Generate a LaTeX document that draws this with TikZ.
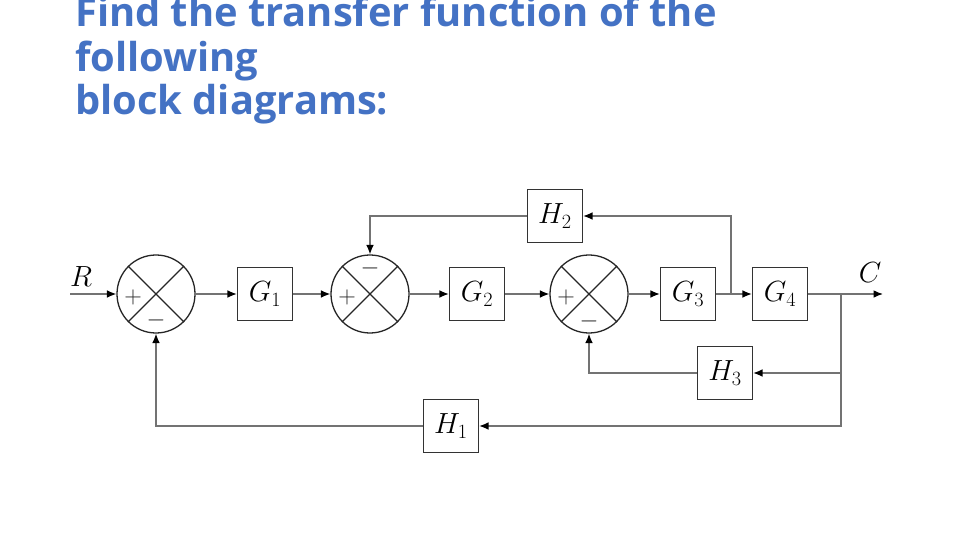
\documentclass[tikz,border=0pt]{standalone}
\usepackage{fontspec}
\newfontfamily\titlefont{Open Sans}
\usetikzlibrary{arrows.meta}
\definecolor{titleblue}{RGB}{68,114,196}

\begin{document}
\begin{tikzpicture}[
    x=0.03cm, y=-0.03cm,
    >={Latex[length=8pt, width=6.5pt, color=black]},
    wire/.style={line width=1.1pt, black!55},
    sig/.style={->, line width=1.1pt, black!55},
    block/.style={draw=black!80, line width=1.1pt, minimum width=1.65cm, minimum height=1.59cm, inner sep=0pt, font=\fontsize{25}{28}\selectfont},
    sumc/.style={circle, draw=black!85, line width=1.1pt, minimum size=2.34cm, inner sep=0pt},
    sign/.style={font=\fontsize{22}{24}\selectfont, text=black!85, inner sep=0pt},
    lbl/.style={font=\fontsize{24}{26}\selectfont, inner sep=0pt},
    headline/.style={anchor=base west, inner sep=0pt, text=titleblue, font=\titlefont\bfseries\fontsize{34}{38}\selectfont}
]
    \clip (0,0) rectangle (960,540);
    \fill[white] (0,0) rectangle (960,540);

    % title
    \node[headline] (title1) at (75,27) {Find the transfer function of the};
    \node[headline] (title2) at (75,72) {following};
    \node[headline] (title3) at (75,115) {block diagrams:};

    % forward path
    \node[sumc] (s1) at (156,294) {};
    \node[block] (g1) at (265,294) {$G_1$};
    \node[sumc] (s2) at (370,294) {};
    \node[block] (g2) at (477,294) {$G_2$};
    \node[sumc] (s3) at (589,294) {};
    \node[block] (g3) at (688,294) {$G_3$};
    \node[block] (g4) at (780,294) {$G_4$};

    % feedback blocks
    \node[block] (h2) at (555,216) {$H_2$};
    \node[block] (h3) at (725,373) {$H_3$};
    \node[block] (h1) at (451,426) {$H_1$};

    \coordinate (in) at (70,294);
    \coordinate (out) at (883,294);
    \coordinate (p34) at (731,294);
    \coordinate (pc) at (841,294);

    \node[lbl] (rlab) at (81,277) {$R$};
    \node[lbl] (clab) at (870,273) {$C$};

    % summing junctions
    \foreach \s in {s1,s2,s3} {
        \draw[wire, black!85] (\s.45) -- (\s.225);
        \draw[wire, black!85] (\s.135) -- (\s.-45);
    }
    \node[sign] (s1p) at (133,297) {$+$};
    \node[sign] (s1m) at (156,320) {$-$};
    \node[sign] (s2p) at (347,297) {$+$};
    \node[sign] (s2m) at (370,268) {$-$};
    \node[sign] (s3p) at (566,297) {$+$};
    \node[sign] (s3m) at (589,321) {$-$};

    % connectors
    \draw[sig] (in) -- (s1);
    \draw[sig] (s1) -- (g1);
    \draw[sig] (g1) -- (s2);
    \draw[sig] (s2) -- (g2);
    \draw[sig] (g2) -- (s3);
    \draw[sig] (s3) -- (g3);
    \draw[sig] (g3) -- (g4);
    \draw[sig] (g4) -- (out);

    \draw[sig] (p34) |- (h2.east);
    \draw[sig] (h2.west) -| (s2.north);
    \draw[sig] (pc) |- (h3.east);
    \draw[sig] (h3.west) -| (s3.south);
    \draw[sig] (pc) |- (h1.east);
    \draw[sig] (h1.west) -| (s1.south);
\end{tikzpicture}
\end{document}
